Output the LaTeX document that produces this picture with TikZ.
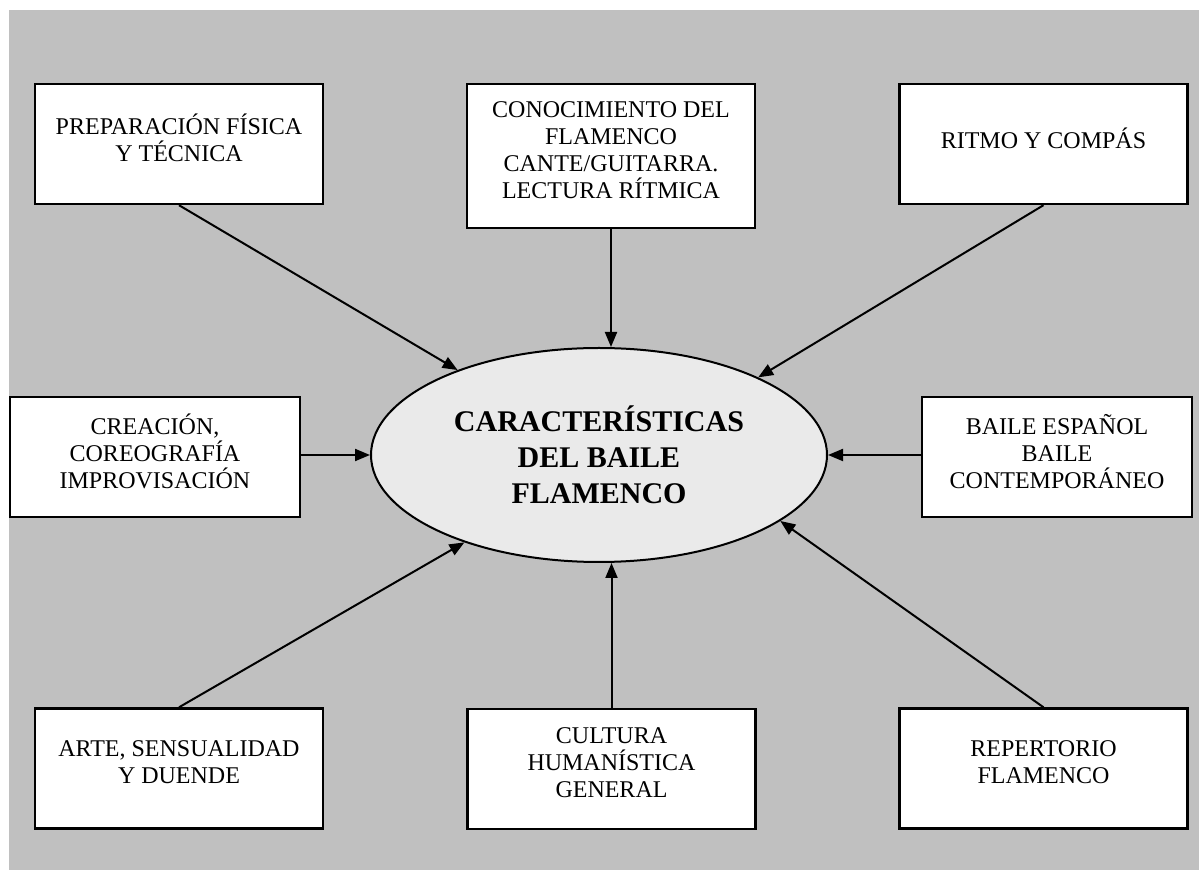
\documentclass[tikz,border=0pt]{standalone}
\usepackage{fontspec}
\setmainfont{Liberation Serif}
\usetikzlibrary{shapes.geometric,arrows.meta}
\definecolor{fondo}{HTML}{C0C0C0}
\definecolor{centro}{HTML}{EAEAEA}
\begin{document}
\begin{tikzpicture}[x=0.5pt,y=-0.5pt]

      \useasboundingbox (0,0) rectangle (1199,870);
      \fill[fondo] (9,10) rectangle (1199,870);

      \begin{scope}[every node/.style={rectangle,draw,line width=1.2pt,fill=white,align=center,
          font=\fontsize{12}{13.5}\selectfont,minimum width=144pt,minimum height=60pt,inner sep=0pt,
          text depth=6pt}]
        \node (prep)    at (179,144)    {PREPARACIÓN FÍSICA\\Y TÉCNICA};
        \node (cono)    at (611,156)    [minimum height=72pt] {CONOCIMIENTO DEL\\FLAMENCO\\CANTE/GUITARRA.\\LECTURA RÍTMICA};
        \node (ritmo)   at (1043.5,144) {RITMO Y COMPÁS};
        \node (crea)    at (155,457)    [minimum width=145pt] {CREACIÓN,\\COREOGRAFÍA\\IMPROVISACIÓN};
        \node (baile)   at (1057,457)   [minimum width=135pt] {BAILE ESPAÑOL\\BAILE\\CONTEMPORÁNEO};
        \node (arte)    at (179,768.5)  {ARTE, SENSUALIDAD\\Y DUENDE};
        \node (cultura) at (611.5,769)  {CULTURA\\HUMANÍSTICA\\GENERAL};
        \node (repert)  at (1043.5,768.5) {REPERTORIO\\FLAMENCO};
      \end{scope}

      \node (cara) at (599,455) [ellipse,draw,line width=1pt,fill=centro,minimum width=228pt,
        minimum height=107pt,inner sep=0pt,align=center,
        font=\fontsize{15}{18}\selectfont\bfseries] {CARACTERÍSTICAS\\DEL BAILE\\FLAMENCO};

      \begin{scope}[every edge/.style={draw,line width=1pt,-{Triangle[length=7.5pt,width=6pt]}}]
        \path (prep.south)    edge (cara.149);
        \path (cono.south)    edge (cono.south |- cara.north);
        \path (ritmo.south)   edge (cara.26);
        \path (cara.west -| crea.east)   edge (cara.west);
        \path (cara.east -| baile.west)  edge (cara.east);
        \path (arte.north)    edge (cara.213);
        \path (cultura.north) edge (cultura.north |- cara.south);
        \path (repert.north)  edge (cara.-20);
      \end{scope}

    \end{tikzpicture}
\end{document}
